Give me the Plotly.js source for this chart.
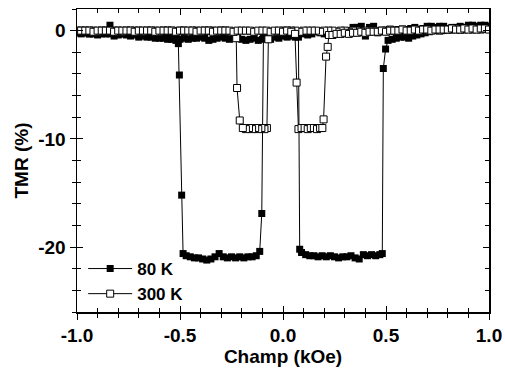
<!DOCTYPE html>
<html>
<head>
<meta charset="utf-8">
<script src="https://cdn.plot.ly/plotly-3.0.1.min.js"></script>
<style>html,body{margin:0;padding:0;background:#fff;}#chart{width:505px;height:374px;}</style>
</head>
<body>
<div id="chart"></div>
<script>
// ---- Data ----
const seriesNames = ["80 K", "300 K"];

// 80 K : field sweep +1 -> -1 then -1 -> +1 (kOe)
const field80K = [
  1.00,0.98,0.96,0.94,0.92,0.90,0.88,0.86,0.84,0.82,0.80,0.78,0.76,0.74,0.72,0.70,0.68,0.66,0.64,0.62,
  0.60,0.58,0.56,0.54,0.52,0.50,0.48,0.46,0.44,0.42,0.40,0.38,0.36,0.34,0.32,0.30,0.28,0.26,0.24,0.22,
  0.20,0.18,0.16,0.14,0.12,0.10,0.08,0.06,0.04,0.02,0.00,-0.02,-0.04,-0.06,-0.08,-0.095,
  -0.103,-0.113,-0.13,-0.15,-0.17,-0.19,-0.21,-0.23,-0.25,-0.27,-0.29,-0.31,-0.33,-0.35,-0.37,-0.39,
  -0.41,-0.43,-0.45,-0.47,-0.485,-0.492,-0.503,-0.508,
  -0.52,-0.54,-0.56,-0.58,-0.60,-0.62,-0.64,-0.66,-0.68,-0.70,-0.72,-0.74,-0.76,-0.78,-0.80,-0.82,
  -0.84,-0.86,-0.88,-0.90,-0.92,-0.94,-0.96,-0.98,-1.00,
  -0.98,-0.96,-0.94,-0.92,-0.90,-0.88,-0.86,-0.84,-0.82,-0.80,-0.78,-0.76,-0.74,-0.72,-0.70,-0.68,
  -0.66,-0.64,-0.62,-0.60,-0.58,-0.56,-0.54,-0.52,-0.50,-0.48,-0.46,-0.44,-0.42,-0.40,-0.38,-0.36,
  -0.34,-0.32,-0.30,-0.28,-0.26,-0.24,-0.22,-0.20,-0.18,-0.16,-0.14,-0.12,-0.10,-0.08,-0.06,-0.04,
  -0.02,0.00,0.02,0.04,0.06,0.075,
  0.081,0.09,0.11,0.13,0.15,0.17,0.19,0.21,0.23,0.25,0.27,0.29,0.31,0.33,0.35,0.37,0.39,0.41,0.43,
  0.45,0.47,0.482,0.487,0.498,
  0.51,0.53,0.55,0.57,0.59,0.61,0.63,0.65,0.67,0.69,0.71,0.73,0.75,0.77,0.79,0.81,0.83,0.85,0.87,
  0.89,0.91,0.93,0.95,0.97,0.99
];
const tmr80K = [
  0.4,0.5,0.5,0.4,0.5,0.5,0.3,0.4,0.3,0.3,0.2,0.4,0.4,0.3,0.4,0.4,0.2,0.1,0.3,0.2,
  0.1,0.0,0.1,0.0,0.1,-0.1,0.0,-0.2,0.4,0.3,-0.5,0.4,0.3,0.3,0.0,-0.1,-0.2,-0.1,-0.3,-0.4,
  -0.3,-0.2,-0.1,-0.3,-0.4,-0.3,-0.2,-0.3,-0.4,-0.5,-0.4,-0.4,-0.5,-0.4,-0.5,-0.6,
  -16.9,-20.4,-20.8,-20.9,-20.9,-21.0,-20.9,-21.0,-20.9,-21.0,-20.9,-20.6,-20.9,-21.1,-21.2,-21.1,
  -21.0,-21.0,-20.9,-20.8,-20.6,-15.2,-4.1,-1.2,
  -0.9,-0.7,-0.8,-0.6,-0.7,-0.5,-0.6,-0.5,-0.4,-0.5,-0.3,-0.4,-0.2,-0.3,-0.3,-0.5,
  0.5,-0.3,-0.2,-0.3,-0.2,-0.3,-0.2,-0.2,-0.2,
  -0.3,-0.2,-0.3,-0.3,-0.4,-0.3,-0.2,-0.3,-0.2,-0.4,-0.3,-0.4,-0.5,-0.4,-0.6,-0.5,
  -0.6,-0.5,-0.7,-0.6,-0.7,-0.6,-0.8,-0.7,-0.8,-0.7,-0.8,-0.7,-0.7,-0.6,-0.7,-0.9,
  -0.8,-0.7,-0.6,-0.7,-0.8,-0.6,-0.7,-0.8,-0.9,-0.8,-0.7,-0.9,-0.8,-0.7,-0.8,-0.6,
  -0.7,-0.5,-0.6,-0.5,-0.6,-0.6,
  -20.2,-20.5,-20.7,-20.8,-20.8,-20.9,-20.8,-20.9,-20.8,-20.9,-21.0,-20.9,-20.9,-20.8,-21.0,-21.1,-20.7,-20.8,-20.7,
  -20.8,-20.7,-20.6,-3.5,-1.7,
  -0.9,-0.8,-0.7,-0.6,-0.6,-0.7,-0.5,-0.4,-0.3,-0.2,-0.1,0.0,0.1,0.0,0.1,0.2,0.1,0.2,0.3,
  0.2,0.3,0.3,0.4,0.3,0.4
];

// 300 K : field sweep +1 -> -1 then -1 -> +1 (kOe)
const field300K = [
  1.00,0.98,0.96,0.94,0.92,0.90,0.88,0.86,0.84,0.82,0.80,0.78,0.76,0.74,0.72,0.70,0.68,0.66,0.64,0.62,
  0.60,0.58,0.56,0.54,0.52,0.50,0.48,0.46,0.44,0.42,0.40,0.38,0.36,0.34,0.32,0.30,0.28,0.26,0.24,0.22,
  0.20,0.18,0.16,0.14,0.12,0.10,0.08,0.06,0.04,0.02,0.00,-0.02,-0.04,-0.06,-0.071,
  -0.078,-0.09,-0.105,-0.12,-0.135,-0.15,-0.165,-0.18,-0.195,-0.21,-0.223,-0.227,
  -0.24,-0.26,-0.28,-0.30,-0.32,-0.34,-0.36,-0.38,-0.40,-0.42,-0.44,-0.46,-0.48,-0.50,-0.52,-0.54,
  -0.56,-0.58,-0.60,-0.62,-0.64,-0.66,-0.68,-0.70,-0.72,-0.74,-0.76,-0.78,-0.80,-0.82,-0.84,-0.86,
  -0.88,-0.90,-0.92,-0.94,-0.96,-0.98,-1.00,
  -0.98,-0.96,-0.94,-0.92,-0.90,-0.88,-0.86,-0.84,-0.82,-0.80,-0.78,-0.76,-0.74,-0.72,-0.70,-0.68,
  -0.66,-0.64,-0.62,-0.60,-0.58,-0.56,-0.54,-0.52,-0.50,-0.48,-0.46,-0.44,-0.42,-0.40,-0.38,-0.36,
  -0.34,-0.32,-0.30,-0.28,-0.26,-0.24,-0.22,-0.20,-0.18,-0.16,-0.14,-0.12,-0.10,-0.08,-0.06,-0.04,
  -0.02,0.00,0.02,0.04,0.058,
  0.066,0.075,0.09,0.105,0.12,0.135,0.15,0.165,0.18,0.191,0.197,0.209,0.217,0.223,
  0.24,0.26,0.28,0.30,0.32,0.34,0.36,0.38,0.40,0.42,0.44,0.46,0.48,0.50,0.52,0.54,0.56,0.58,0.60,
  0.62,0.64,0.66,0.68,0.70,0.72,0.74,0.76,0.78,0.80,0.82,0.84,0.86,0.88,0.90,0.92,0.94,0.96,0.98,1.00
];
const tmr300K = [
  0.2,0.2,0.1,0.2,0.1,0.2,0.1,0.1,0.2,0.1,0.1,0.1,0.0,0.1,0.1,0.0,0.1,0.0,0.1,0.0,
  0.0,0.1,0.0,0.0,0.1,0.0,0.0,-0.1,0.0,0.0,0.0,-0.1,0.0,0.0,-0.1,0.0,0.0,-0.1,0.0,0.0,
  0.0,-0.1,0.0,0.0,0.0,0.0,-0.1,0.0,0.0,0.0,0.0,-0.1,-0.1,-0.2,-0.8,
  -9.0,-9.1,-9.0,-9.1,-9.0,-9.1,-9.0,-9.1,-9.0,-8.3,-5.3,-0.7,
  -0.1,-0.1,0.0,0.0,-0.1,0.0,0.0,0.0,-0.1,0.0,0.0,-0.1,0.0,0.0,-0.1,0.0,
  0.0,0.0,-0.1,0.0,0.0,0.0,-0.1,0.0,0.0,0.0,0.0,-0.1,0.0,0.0,0.0,0.0,
  0.0,-0.1,0.0,0.0,0.0,0.0,0.0,
  0.0,0.0,0.0,-0.1,0.0,0.0,0.0,0.0,-0.1,0.0,0.0,0.0,0.0,-0.1,0.0,0.0,
  0.0,0.0,-0.1,0.0,0.0,0.0,0.0,-0.1,0.0,0.0,0.0,0.0,-0.1,0.0,0.0,0.0,
  -0.1,0.0,0.0,0.0,0.0,-0.1,0.0,0.0,0.0,0.0,-0.1,0.0,0.0,0.0,-0.1,0.0,
  0.0,-0.1,0.0,-0.1,-0.3,
  -4.8,-9.1,-9.0,-9.0,-9.1,-9.0,-9.0,-9.1,-9.0,-9.0,-8.2,-2.4,-1.5,-0.4,
  -0.4,-0.3,-0.3,-0.2,-0.3,-0.2,-0.2,-0.1,-0.2,-0.1,-0.1,-0.1,0.0,-0.1,0.0,0.0,0.0,0.1,0.0,
  0.0,0.1,0.0,0.1,0.1,0.0,0.1,0.1,0.1,0.1,0.2,0.1,0.1,0.2,0.1,0.2,0.1,0.2,0.2,0.1
];

const xTickVals = [-1.0, -0.5, 0.0, 0.5, 1.0];
const xTickText = ["-1.0", "-0.5", "0.0", "0.5", "1.0"];
const yTickVals = [-20, -10, 0];
const yTickText = ["-20", "-10", "0"];

// ---- Chart ----
const FONT = "Liberation Sans, Arial, Helvetica, sans-serif";

const traces = [
  {
    x: field80K, y: tmr80K, name: seriesNames[0], type: "scatter", mode: "lines+markers",
    line: {color: "#000", width: 1},
    marker: {symbol: "square", size: 7, color: "#000", line: {color: "#000", width: 0}}
  },
  {
    x: field300K, y: tmr300K, name: seriesNames[1], type: "scatter", mode: "lines+markers",
    line: {color: "#000", width: 1},
    marker: {symbol: "square", size: 7, color: "#fff", line: {color: "#000", width: 1}}
  },
  {x: [], y: [], xaxis: "x2", yaxis: "y2", showlegend: false, hoverinfo: "skip"}
];

const common = {showgrid: false, zeroline: false, showline: true, linecolor: "#000", linewidth: 1.5,
  tickcolor: "#000", tickwidth: 1};

const layout = {
  width: 505, height: 374,
  margin: {l: 77, r: 16, t: 9, b: 62},
  paper_bgcolor: "#fff", plot_bgcolor: "#fff",
  showlegend: true,
  legend: {x: 0.015, y: 0.0, xanchor: "left", yanchor: "bottom", bgcolor: "rgba(0,0,0,0)",
    font: {family: FONT, size: 17, weight: "bold", color: "#000"}, tracegroupgap: 0, itemwidth: 44},
  xaxis: Object.assign({}, common, {
    range: [-1, 1], tickmode: "array", tickvals: xTickVals, ticktext: xTickText,
    ticks: "outside", ticklen: 6, mirror: true,
    minor: {dtick: 0.1, ticks: "outside", ticklen: 4, tickcolor: "#000", tickwidth: 1},
    tickfont: {family: FONT, size: 19, weight: "bold", color: "#000"},
    title: {text: "Champ (kOe)", font: {family: FONT, size: 19, weight: "bold", color: "#000"}, standoff: 4}
  }),
  yaxis: Object.assign({}, common, {
    range: [-26, 2], tickmode: "array", tickvals: yTickVals, ticktext: yTickText,
    ticks: "outside", ticklen: 6, mirror: true,
    minor: {dtick: 2, ticks: "outside", ticklen: 4, tickcolor: "#000", tickwidth: 1},
    tickfont: {family: FONT, size: 19, weight: "bold", color: "#000"},
    title: {text: "TMR (%)", font: {family: FONT, size: 19, weight: "bold", color: "#000"}, standoff: 4}
  }),
  xaxis2: Object.assign({}, common, {
    overlaying: "x", anchor: "y2", side: "bottom", range: [-1, 1],
    tickmode: "array", tickvals: xTickVals, ticks: "inside", ticklen: 6, mirror: "ticks",
    minor: {dtick: 0.1, ticks: "inside", ticklen: 4, tickcolor: "#000", tickwidth: 1},
    showticklabels: false
  }),
  yaxis2: Object.assign({}, common, {
    overlaying: "y", anchor: "x2", side: "left", range: [-26, 2],
    tickmode: "array", tickvals: yTickVals, ticks: "inside", ticklen: 6, mirror: "ticks",
    minor: {dtick: 2, ticks: "inside", ticklen: 4, tickcolor: "#000", tickwidth: 1},
    showticklabels: false
  })
};

Plotly.newPlot("chart", traces, layout, {staticPlot: true, displayModeBar: false});
</script>
</body>
</html>
